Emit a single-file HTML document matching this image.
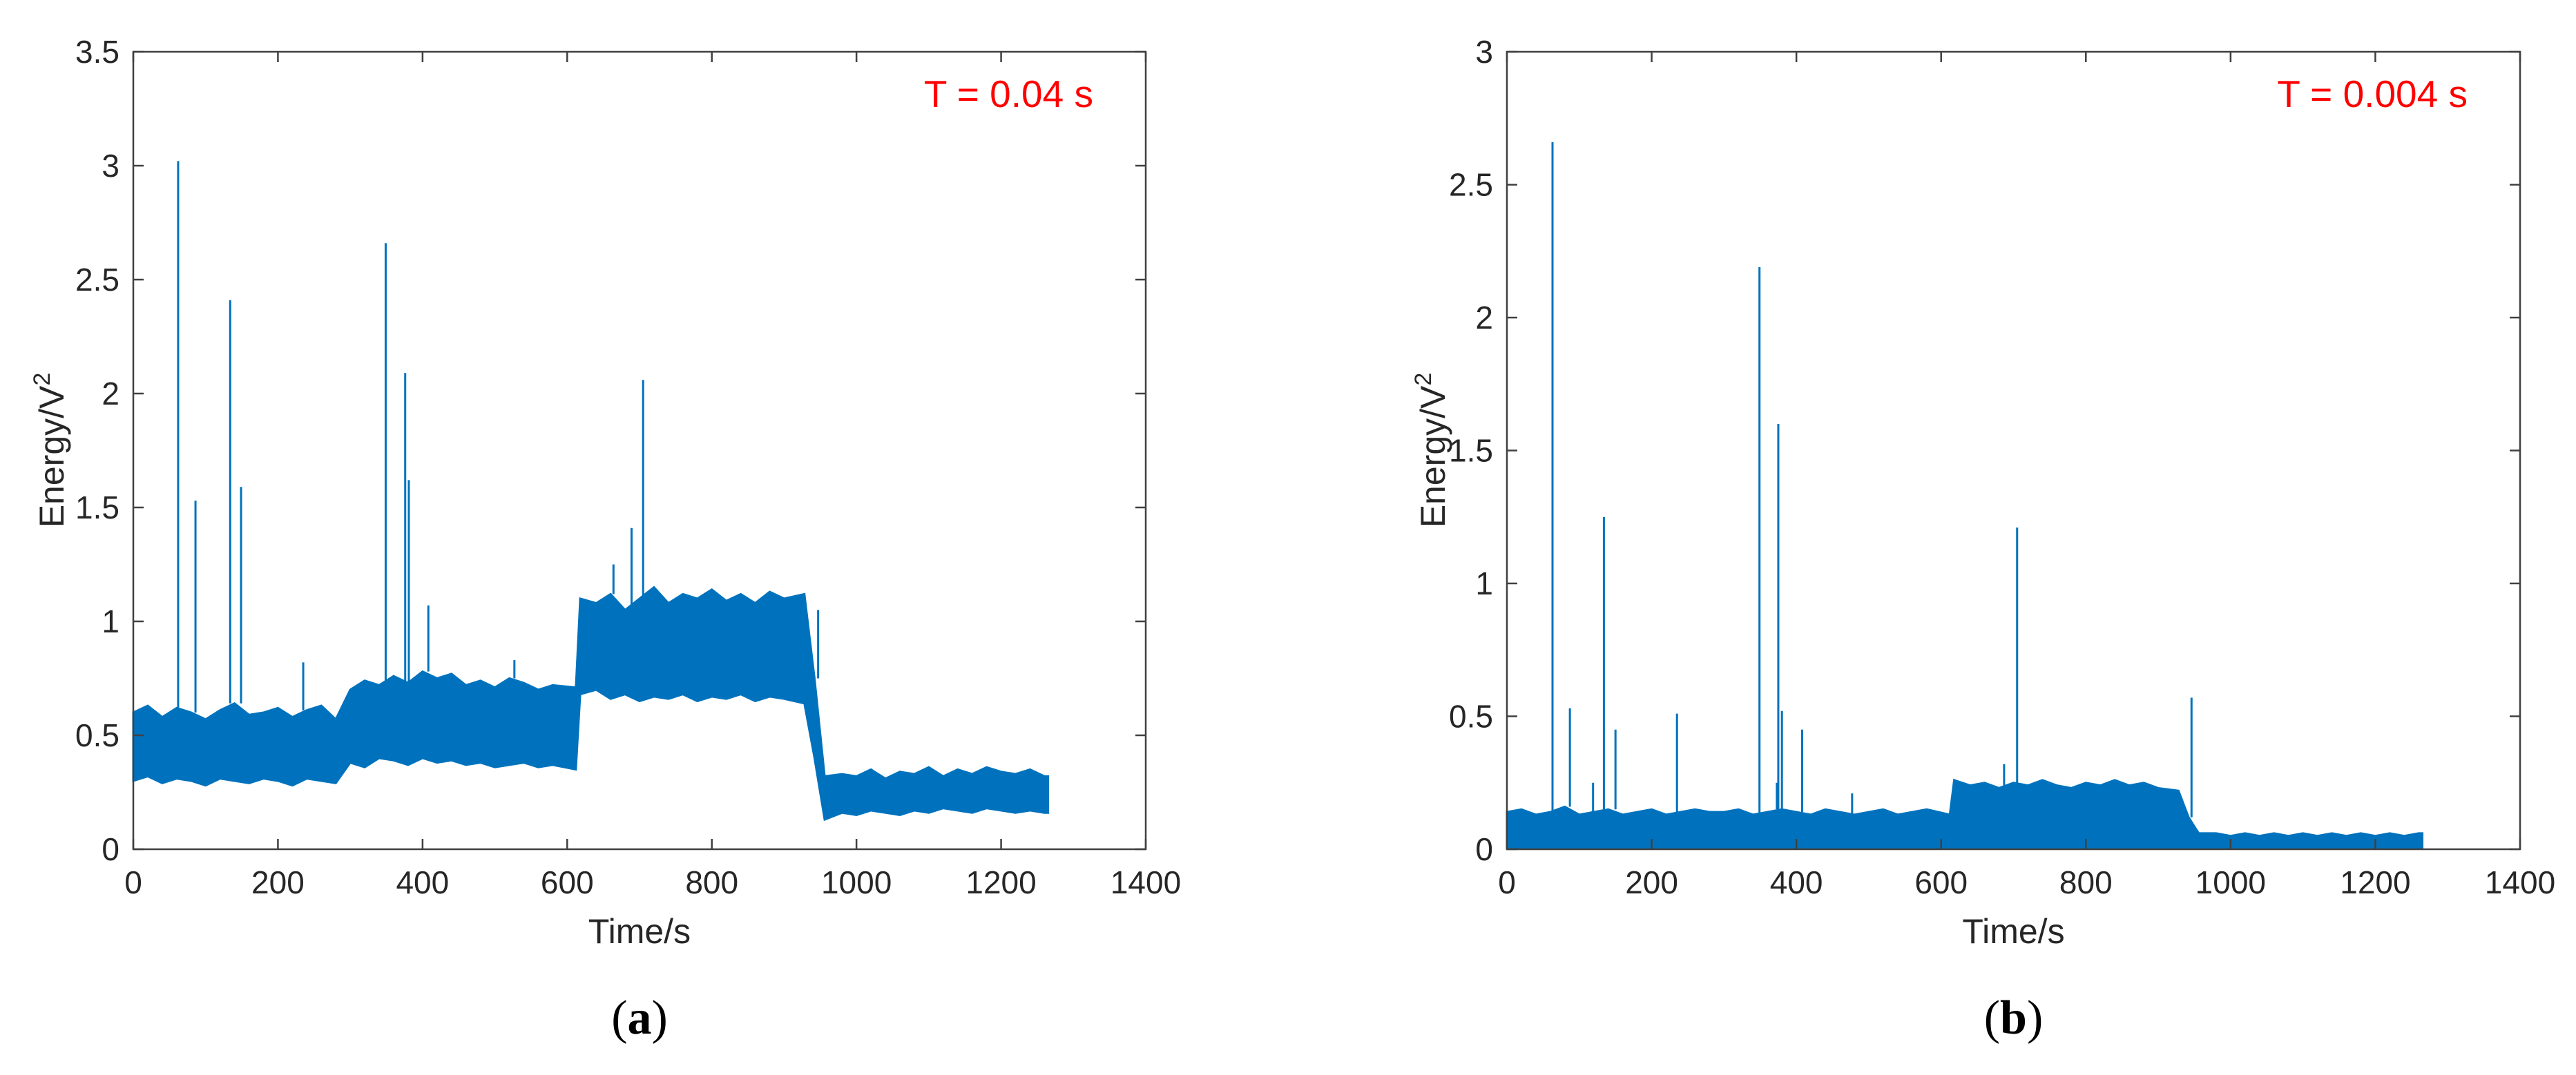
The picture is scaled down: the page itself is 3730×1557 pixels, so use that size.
<!DOCTYPE html>
<html><head><meta charset="utf-8"><style>
html,body{margin:0;padding:0;background:#fff;}
svg{display:block;}
</style></head><body>
<svg id="fig" width="3730" height="1557" viewBox="0 0 3730 1557" xmlns="http://www.w3.org/2000/svg" font-family="Liberation Sans, Arial, sans-serif"></svg>
<script>
// ---- shared data ----
const times = [0,20,40,60,80,100,120,140,160,180,200,220,240,260,280,
  300,320,340,360,380,400,420,440,460,480,500,520,540,560,580,612,
  618,640,660,680,700,720,740,760,780,800,820,840,860,880,900,928,
  942,956,
  980,1000,1020,1040,1060,1080,1100,1120,1140,1160,1180,1200,1220,1240,1260];
const xTicks = [0,200,400,600,800,1000,1200,1400];

// chart (a)
const aYTicks = [0,0.5,1,1.5,2,2.5,3,3.5];
const aUpper = [0.60,0.63,0.58,0.62,0.60,0.57,0.61,0.64,0.59,0.60,0.62,0.58,0.61,0.63,0.57,
  0.70,0.74,0.72,0.76,0.73,0.78,0.75,0.77,0.72,0.74,0.71,0.75,0.73,0.70,0.72,0.71,
  1.10,1.08,1.12,1.05,1.10,1.15,1.08,1.12,1.10,1.14,1.09,1.12,1.08,1.13,1.10,1.12,
  0.75,0.32,
  0.33,0.32,0.35,0.31,0.34,0.33,0.36,0.32,0.35,0.33,0.36,0.34,0.33,0.35,0.32];
const aLower = [0.30,0.32,0.29,0.31,0.30,0.28,0.31,0.30,0.29,0.31,0.30,0.28,0.31,0.30,0.29,
  0.38,0.36,0.40,0.39,0.37,0.40,0.38,0.39,0.37,0.38,0.36,0.37,0.38,0.36,0.37,0.35,
  0.68,0.70,0.66,0.68,0.65,0.67,0.66,0.68,0.65,0.67,0.66,0.68,0.65,0.67,0.66,0.64,
  0.40,0.13,
  0.16,0.15,0.17,0.16,0.15,0.17,0.16,0.18,0.17,0.16,0.18,0.17,0.16,0.17,0.16];
const aSpikeT = [62,86,134,149,235,349,376,381,408,527,664,689,705,947];
const aSpikeV = [3.02,1.53,2.41,1.59,0.82,2.66,2.09,1.62,1.07,0.83,1.25,1.41,2.06,1.05];

// chart (b)
const bYTicks = [0,0.5,1,1.5,2,2.5,3];
const bUpper = [0.14,0.15,0.13,0.14,0.16,0.13,0.14,0.15,0.13,0.14,0.15,0.13,0.14,0.15,0.14,
  0.14,0.15,0.13,0.14,0.15,0.14,0.13,0.15,0.14,0.13,0.14,0.15,0.13,0.14,0.15,0.13,
  0.26,0.24,0.25,0.23,0.25,0.24,0.26,0.24,0.23,0.25,0.24,0.26,0.24,0.25,0.23,0.22,
  0.12,0.06,
  0.06,0.05,0.06,0.05,0.06,0.05,0.06,0.05,0.06,0.05,0.06,0.05,0.06,0.05,0.06];
const bLower = times.map(() => 0.005);
const bSpikeT = [63,87,119,134,150,235,349,373,375,380,408,477,687,705,946];
const bSpikeV = [2.66,0.53,0.25,1.25,0.45,0.51,2.19,0.25,1.60,0.52,0.45,0.21,0.32,1.21,0.57];

const NS = "http://www.w3.org/2000/svg";
const svg = document.getElementById('fig');
function mk(tag, attrs, parent){
  const e = document.createElementNS(NS, tag);
  for (const k in attrs) e.setAttribute(k, attrs[k]);
  (parent || svg).appendChild(e);
  return e;
}
function nearestIdx(t){
  let best = 0;
  for (let i = 1; i < times.length; i++) if (Math.abs(times[i]-t) < Math.abs(times[best]-t)) best = i;
  return best;
}

function drawChart(cfg){
  const g = mk('g', {});
  
  
  const L = cfg.left, R = cfg.right, T = 75, B = 1230;
  const xS = v => L + (v - 0) / 1400 * (R - L);
  const yS = v => B - v / cfg.yMax * (B - T);

  let d = 'M' + xS(times[0]) + ',' + yS(cfg.upper[0]);
  for (let i = 1; i < times.length; i++) d += ' L' + xS(times[i]) + ',' + yS(cfg.upper[i]);
  d += ' L' + xS(cfg.tEnd) + ',' + yS(cfg.upper[cfg.upper.length-1]);
  d += ' L' + xS(cfg.tEnd) + ',' + yS(cfg.lower[cfg.lower.length-1]);
  for (let i = times.length - 1; i >= 0; i--) d += ' L' + xS(times[i]) + ',' + yS(cfg.lower[i]);
  d += ' Z';
  const band = mk('path', {d: d, fill: '#0072bd', stroke: '#0072bd', 'stroke-width': 3}, g);
  
  

  for (let i = 0; i < cfg.spikeT.length; i++) {
    const t = cfg.spikeT[i];
    const base = cfg.upper[nearestIdx(t)];
    const ln = mk('line', {x1: xS(t), x2: xS(t), y1: yS(base), y2: yS(cfg.spikeV[i]), stroke: '#0072bd', 'stroke-width': 3}, g);
    
    
  }

  const box = mk('rect', {x: L, y: T, width: R - L, height: B - T, fill: 'none', stroke: '#404040', 'stroke-width': 2.5}, g);
  
  

  xTicks.forEach(v => {
    const x = xS(v);
    mk('line', {x1: x, x2: x, y1: B, y2: B - 15, stroke: '#404040', 'stroke-width': 2.5}, g);
    mk('line', {x1: x, x2: x, y1: T, y2: T + 15, stroke: '#404040', 'stroke-width': 2.5}, g);
    const tx = mk('text', {x: x, y: 1294, 'text-anchor': 'middle', 'font-size': 46, fill: '#262626'}, g);
    tx.textContent = v;
    
    
  });
  cfg.yTicks.forEach(v => {
    const y = yS(v);
    mk('line', {x1: L, x2: L + 15, y1: y, y2: y, stroke: '#404040', 'stroke-width': 2.5}, g);
    mk('line', {x1: R, x2: R - 15, y1: y, y2: y, stroke: '#404040', 'stroke-width': 2.5}, g);
    const ty = mk('text', {x: L - 20, y: y + 16, 'text-anchor': 'end', 'font-size': 46, fill: '#262626'}, g);
    ty.textContent = v;
    
    
  });

  const xt = mk('text', {x: (L + R) / 2, y: 1366, 'text-anchor': 'middle', 'font-size': 50, fill: '#262626'}, g);
  xt.textContent = 'Time/s';
  
  

  const yt = mk('text', {x: 0, y: 0, 'text-anchor': 'middle', 'font-size': 50, fill: '#262626', transform: 'translate(' + cfg.yTitleX + ',652) rotate(-90)'}, g);
  
  
  yt.appendChild(document.createTextNode('Energy/V'));
  const sup = mk('tspan', {'font-size': 34, dy: -20}, yt);
  sup.textContent = '2';

  const an = mk('text', {x: cfg.annX, y: 155, 'text-anchor': 'end', 'font-size': 55, fill: '#ff0000'}, g);
  an.textContent = cfg.ann;
  
  

  const pl = mk('text', {x: (L + R) / 2, y: 1497, 'text-anchor': 'middle', 'font-size': 70, fill: '#000', 'font-family': 'Liberation Serif, serif'}, g);
  
  
  pl.appendChild(document.createTextNode('('));
  const b = mk('tspan', {'font-weight': 'bold'}, pl);
  b.textContent = cfg.label;
  pl.appendChild(document.createTextNode(')'));
}

drawChart({name: 'chart-a', left: 193, right: 1659, yMax: 3.5, yTicks: aYTicks, upper: aUpper, lower: aLower,
  spikeT: aSpikeT, spikeV: aSpikeV, tEnd: 1265, yTitleX: 92, ann: 'T = 0.04 s', annX: 1583, label: 'a'});
drawChart({name: 'chart-b', left: 2182, right: 3649, yMax: 3, yTicks: bYTicks, upper: bUpper, lower: bLower,
  spikeT: bSpikeT, spikeV: bSpikeV, tEnd: 1265, yTitleX: 2092, ann: 'T = 0.004 s', annX: 3573, label: 'b'});
</script>
</body></html>
